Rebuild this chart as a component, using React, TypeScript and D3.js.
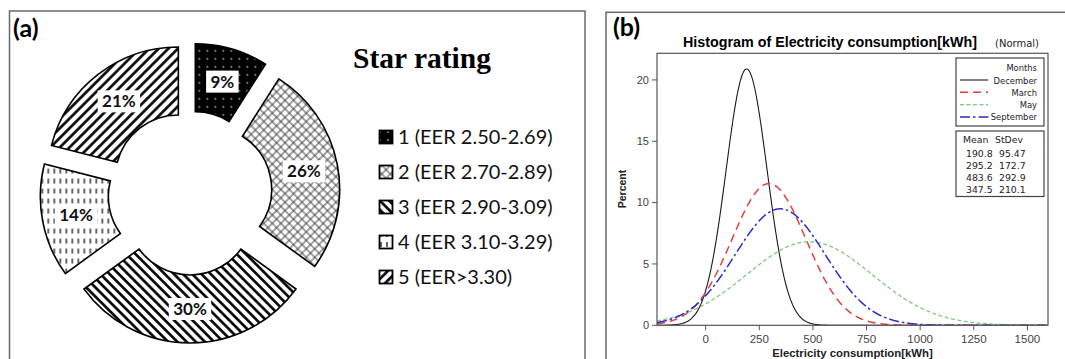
import React from 'react';
import * as d3 from 'd3';

// ---------- Panel (a) data ----------
const ratingLabels = ['1 (EER 2.50-2.69)', '2 (EER 2.70-2.89)', '3 (EER 2.90-3.09)', '4 (EER 3.10-3.29)', '5 (EER>3.30)'];
const ratingShares = [9, 26, 30, 14, 21];
const ratingPatterns = ['pat1', 'pat2', 'pat3', 'pat4', 'pat5'];

// ---------- Panel (b) data ----------
const months = ['December', 'March', 'May', 'September'];
const monthMeans = [190.8, 295.2, 483.6, 347.5];
const monthStdevs = [95.47, 172.7, 292.9, 210.1];
const meanLabels = ['190.8', '295.2', '483.6', '347.5'];
const stdevLabels = ['95.47', '172.7', '292.9', '210.1'];
const binWidth = 50; // kWh per histogram bin (percent scale)
const xDomain = [-227, 1596];
const yDomain = [0, 22.17];
const xTicks = [0, 250, 500, 750, 1000, 1250, 1500];
const yTicks = [0, 5, 10, 15, 20];

const monthColors = ['#1a1a1a', '#e0403c', '#80c880', '#2a2ac8'];
const monthDashes = ['none', '8,5', '4,2.5', '10,3,2.5,3'];
const monthWidths = [1.1, 1.5, 1.3, 1.5];

const SANS = 'Lato, "Open Sans", sans-serif';
const ARIAL = '"Liberation Sans", Arial, sans-serif';
const VERD = '"DejaVu Sans", Verdana, sans-serif';

function normalPct(v: number, mean: number, sd: number) {
  const z = (v - mean) / sd;
  return (binWidth * 100 * Math.exp(-0.5 * z * z)) / (sd * Math.sqrt(2 * Math.PI));
}

export default function App() {
  // Donut
  const cx = 190, cy = 193, explode = 19;
  const pie = d3.pie<number>().sort(null).value((d) => d).startAngle(0).endAngle(2 * Math.PI);
  const arcs = pie(ratingShares);
  const arcGen = d3.arc<d3.PieArcDatum<number>>().innerRadius(63).outerRadius(131);

  // Plot
  const pl = 657, pr = 1048, pt = 53.3, pb = 325.3;
  const x = d3.scaleLinear().domain(xDomain).range([pl, pr]);
  const y = d3.scaleLinear().domain(yDomain).range([pb, pt]);
  const samples = d3.range(xDomain[0], xDomain[1] + 1, 3);
  const line = d3.line<[number, number]>().x((d) => x(d[0])).y((d) => y(d[1])).curve(d3.curveMonotoneX);

  return (
    <svg width={1065} height={359} style={{ position: 'absolute', left: 0, top: 0, background: '#fff' }}>
      <defs>
        <pattern id="pat1" patternUnits="userSpaceOnUse" width="8" height="8">
          <rect width="8" height="8" fill="#000" />
          <circle cx="4" cy="4" r="0.85" fill="#ddd" />
        </pattern>
        <pattern id="pat2" patternUnits="userSpaceOnUse" width="6" height="6" patternTransform="rotate(45)">
          <rect width="6" height="6" fill="#fff" />
          <path d="M0,3 H6 M3,0 V6" stroke="#333" strokeWidth="0.9" />
        </pattern>
        <pattern id="pat3" patternUnits="userSpaceOnUse" width="6.5" height="6.5" patternTransform="rotate(-45)">
          <rect width="6.5" height="6.5" fill="#fff" />
          <path d="M3.25,0 V6.5" stroke="#000" strokeWidth="2.6" />
        </pattern>
        <pattern id="pat4" patternUnits="userSpaceOnUse" width="6" height="10">
          <rect width="6" height="10" fill="#fff" />
          <path d="M3,2 V7" stroke="#000" strokeWidth="1.2" />
        </pattern>
        <pattern id="pat5" patternUnits="userSpaceOnUse" width="6.8" height="6.8" patternTransform="rotate(45)">
          <rect width="6.8" height="6.8" fill="#fff" />
          <path d="M3.4,0 V6.8" stroke="#000" strokeWidth="2.6" />
        </pattern>
        <clipPath id="plotClip">
          <rect x={pl} y={pt} width={pr - pl} height={pb - pt} />
        </clipPath>
      </defs>

      {/* ---------- Panel (a) ---------- */}
      <rect x={9.5} y={11} width={575.5} height={360} fill="none" stroke="#6a6a6a" strokeWidth={1.5} />
      <text x={13} y={37} fontFamily={SANS} fontWeight="bold" fontSize={25}>(a)</text>

      <g transform={`translate(${cx},${cy})`}>
        {arcs.map((a, i) => {
          const mid = (a.startAngle + a.endAngle) / 2;
          const dx = explode * Math.sin(mid), dy = -explode * Math.cos(mid);
          return (
            <g key={i} transform={`translate(${dx},${dy})`}>
              <path d={arcGen(a) || ''} fill={`url(#${ratingPatterns[i]})`} stroke="#000" strokeWidth={1.6} />
            </g>
          );
        })}
        {arcs.map((a, i) => {
          const mid = (a.startAngle + a.endAngle) / 2;
          const dx = explode * Math.sin(mid), dy = -explode * Math.cos(mid);
          const [lx, ly] = arcGen.centroid(a);
          const txt = `${ratingShares[i]}%`;
          const w = (txt.length - 1) * 9.9 + 13.6 + 9;
          return (
            <g key={'l' + i} transform={`translate(${lx + dx},${ly + dy})`}>
              <rect x={-w / 2} y={-11} width={w} height={22} fill="#fff" />
              <text textAnchor="middle" dy="0.36em" fontFamily={SANS} fontWeight="bold" fontSize={17} fill="#111">{txt}</text>
            </g>
          );
        })}
      </g>

      <text x={353} y={68} fontFamily='"Liberation Serif", "Times New Roman", serif' fontWeight="bold" fontSize={29.5}>Star rating</text>
      {ratingLabels.map((lab, i) => {
        const yy = 137 + i * 35;
        return (
          <g key={lab}>
            <rect x={379.5} y={yy - 6.5} width={13} height={13} fill={`url(#${ratingPatterns[i]})`} stroke="#000" strokeWidth={1.8} />
            <text x={398} y={yy + 7} fontFamily={SANS} fontSize={20} fill="#111">{lab}</text>
          </g>
        );
      })}

      {/* ---------- Panel (b) ---------- */}
      <rect x={606} y={12.3} width={470} height={360} fill="none" stroke="#6a6a6a" strokeWidth={1.5} />
      <text x={613} y={36} fontFamily={SANS} fontWeight="bold" fontSize={25}>(b)</text>
      <text x={683} y={46.5} fontFamily={ARIAL} fontWeight="bold" fontSize={14.3}>Histogram of Electricity consumption[kWh]</text>
      <text x={995} y={46.5} fontFamily={VERD} fontSize={10} fill="#222">(Normal)</text>

      {/* curves */}
      <g clipPath="url(#plotClip)">
        {months.map((m, i) => {
          const pts: [number, number][] = samples.map((v) => [v, normalPct(v, monthMeans[i], monthStdevs[i])]);
          return (
            <path key={m} d={line(pts) || ''} fill="none" stroke={monthColors[i]} strokeWidth={monthWidths[i]}
              strokeDasharray={monthDashes[i]} />
          );
        })}
      </g>
      <rect x={pl} y={pt} width={pr - pl} height={pb - pt} fill="none" stroke="#555" strokeWidth={1.2} />

      {/* y axis */}
      {yTicks.map((t) => (
        <g key={'y' + t}>
          <line x1={pl - 5} x2={pl} y1={y(t)} y2={y(t)} stroke="#555" strokeWidth={1} />
          <text x={pl - 8} y={y(t)} dy="0.35em" textAnchor="end" fontFamily={ARIAL} fontSize={11} fill="#444">{t}</text>
        </g>
      ))}
      <text transform={`translate(626,189) rotate(-90)`} textAnchor="middle" fontFamily={ARIAL} fontWeight="bold" fontSize={10.5} fill="#222">Percent</text>

      {/* x axis */}
      {xTicks.map((t) => (
        <g key={'x' + t}>
          <line x1={x(t)} x2={x(t)} y1={pb} y2={pb + 5} stroke="#555" strokeWidth={1} />
          <text x={x(t)} y={343} textAnchor="middle" fontFamily={ARIAL} fontSize={11.5} fill="#444">{t}</text>
        </g>
      ))}
      <text x={(pl + pr) / 2} y={357} textAnchor="middle" fontFamily={ARIAL} fontWeight="bold" fontSize={11.4} fill="#222">Electricity consumption[kWh]</text>

      {/* legend: months */}
      <rect x={956} y={58} width={88} height={68} fill="#fff" stroke="#444" strokeWidth={1.2} />
      <text x={1037} y={71} textAnchor="end" fontFamily={VERD} fontSize={8.4} fill="#222">Months</text>
      {months.map((m, i) => {
        const by = 83.5 + i * 12.3;
        return (
          <g key={'lg' + m}>
            <line x1={960} x2={i === 3 ? 991 : 988} y1={by - 3.5} y2={by - 3.5} stroke={monthColors[i]} strokeWidth={monthWidths[i]}
              strokeDasharray={monthDashes[i]} />
            <text x={1037} y={by} textAnchor="end" fontFamily={VERD} fontSize={8.4} fill="#222">{m}</text>
          </g>
        );
      })}

      {/* legend: stats */}
      <rect x={956} y={131} width={88} height={65.5} fill="#fff" stroke="#444" strokeWidth={1.2} />
      <text x={963} y={142.5} fontFamily={VERD} fontSize={9.3} fill="#222">Mean</text>
      <text x={995} y={142.5} fontFamily={VERD} fontSize={9.3} fill="#222">StDev</text>
      {meanLabels.map((mv, i) => (
        <g key={'st' + i}>
          <text x={966} y={156.5 + i * 12.2} fontFamily={VERD} fontSize={9.3} fill="#222">{mv}</text>
          <text x={999} y={156.5 + i * 12.2} fontFamily={VERD} fontSize={9.3} fill="#222">{stdevLabels[i]}</text>
        </g>
      ))}
    </svg>
  );
}
